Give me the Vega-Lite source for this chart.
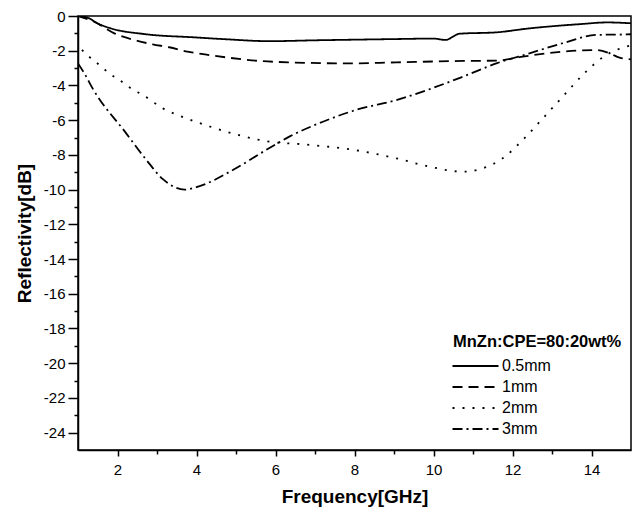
{
  "$schema": "https://vega.github.io/schema/vega-lite/v6.json",
  "width": 553,
  "height": 434,
  "autosize": "none",
  "padding": {"left": 78, "top": 16, "right": 7, "bottom": 64},
  "background": "white",
  "config": {
    "font": "Liberation Sans",
    "view": {"stroke": "black", "strokeWidth": 1.5},
    "axis": {"domainColor": "black", "tickColor": "black", "labelColor": "black", "titleColor": "black", "grid": false, "domainWidth": 1.5, "tickWidth": 1.5}
  },
  "data": {"values": [
    {"s":"0.5mm","x":1,"y":0},{"s":"0.5mm","x":1.25,"y":-0.1},{"s":"0.5mm","x":1.49,"y":-0.42},{"s":"0.5mm","x":1.83,"y":-0.71},{"s":"0.5mm","x":2.68,"y":-1.04},{"s":"0.5mm","x":3.94,"y":-1.23},{"s":"0.5mm","x":4.75,"y":-1.34},{"s":"0.5mm","x":5.85,"y":-1.45},{"s":"0.5mm","x":7,"y":-1.4},{"s":"0.5mm","x":8.1,"y":-1.36},{"s":"0.5mm","x":9,"y":-1.33},{"s":"0.5mm","x":10,"y":-1.3},{"s":"0.5mm","x":10.3,"y":-1.38},{"s":"0.5mm","x":10.66,"y":-1.02},{"s":"0.5mm","x":11.6,"y":-0.94},{"s":"0.5mm","x":12.4,"y":-0.72},{"s":"0.5mm","x":13.7,"y":-0.47},{"s":"0.5mm","x":14.4,"y":-0.37},{"s":"0.5mm","x":15,"y":-0.42},
    {"s":"1mm","x":1,"y":0},{"s":"1mm","x":1.41,"y":-0.33},{"s":"1mm","x":1.92,"y":-1.0},{"s":"1mm","x":2.42,"y":-1.38},{"s":"1mm","x":2.89,"y":-1.63},{"s":"1mm","x":3.31,"y":-1.8},{"s":"1mm","x":3.77,"y":-2.05},{"s":"1mm","x":4.33,"y":-2.25},{"s":"1mm","x":5.6,"y":-2.59},{"s":"1mm","x":6.5,"y":-2.68},{"s":"1mm","x":7.87,"y":-2.73},{"s":"1mm","x":9.06,"y":-2.67},{"s":"1mm","x":10.74,"y":-2.59},{"s":"1mm","x":11.59,"y":-2.57},{"s":"1mm","x":12.26,"y":-2.34},{"s":"1mm","x":13.27,"y":-2.05},{"s":"1mm","x":14.12,"y":-1.96},{"s":"1mm","x":14.46,"y":-2.15},{"s":"1mm","x":14.71,"y":-2.4},{"s":"1mm","x":15,"y":-2.5},
    {"s":"2mm","x":1.1,"y":-1.95},{"s":"2mm","x":1.28,"y":-2.34},{"s":"2mm","x":1.54,"y":-2.82},{"s":"2mm","x":1.79,"y":-3.3},{"s":"2mm","x":2.08,"y":-3.74},{"s":"2mm","x":2.34,"y":-4.17},{"s":"2mm","x":2.64,"y":-4.55},{"s":"2mm","x":3.15,"y":-5.32},{"s":"2mm","x":3.7,"y":-5.86},{"s":"2mm","x":4.25,"y":-6.3},{"s":"2mm","x":5.05,"y":-6.85},{"s":"2mm","x":5.85,"y":-7.24},{"s":"2mm","x":6.69,"y":-7.39},{"s":"2mm","x":8.0,"y":-7.72},{"s":"2mm","x":9.06,"y":-8.2},{"s":"2mm","x":9.9,"y":-8.68},{"s":"2mm","x":10.74,"y":-8.97},{"s":"2mm","x":11.25,"y":-8.77},{"s":"2mm","x":11.75,"y":-8.2},{"s":"2mm","x":12.26,"y":-7.14},{"s":"2mm","x":12.77,"y":-5.89},{"s":"2mm","x":13.27,"y":-4.65},{"s":"2mm","x":13.82,"y":-3.3},{"s":"2mm","x":14.37,"y":-2.25},{"s":"2mm","x":14.88,"y":-1.77},{"s":"2mm","x":15,"y":-1.7},
    {"s":"3mm","x":1,"y":-2.73},{"s":"3mm","x":1.16,"y":-3.3},{"s":"3mm","x":1.37,"y":-4.17},{"s":"3mm","x":2.22,"y":-6.76},{"s":"3mm","x":2.73,"y":-8.29},{"s":"3mm","x":3.15,"y":-9.4},{"s":"3mm","x":3.7,"y":-10.0},{"s":"3mm","x":4.08,"y":-9.8},{"s":"3mm","x":4.92,"y":-8.87},{"s":"3mm","x":5.76,"y":-7.72},{"s":"3mm","x":6.35,"y":-6.95},{"s":"3mm","x":7.2,"y":-6.09},{"s":"3mm","x":8.04,"y":-5.41},{"s":"3mm","x":9.06,"y":-4.84},{"s":"3mm","x":10.74,"y":-3.5},{"s":"3mm","x":11.59,"y":-2.73},{"s":"3mm","x":12.43,"y":-2.15},{"s":"3mm","x":13.27,"y":-1.57},{"s":"3mm","x":14.12,"y":-1.09},{"s":"3mm","x":14.88,"y":-1.06},{"s":"3mm","x":15,"y":-1.05}
  ]},
  "resolve": {"axis": {"x": "independent", "y": "independent"}},
  "layer": [
    {
      "mark": {"type": "line", "color": "black", "strokeWidth": 1.8, "clip": true, "interpolate": "monotone"},
      "encoding": {
        "x": {"field": "x", "type": "quantitative", "scale": {"domain": [1, 15], "nice": false, "zero": false},
          "axis": {"orient": "bottom", "values": [2,4,6,8,10,12,14], "title": "Frequency[GHz]", "titleFontSize": 19, "titleFontWeight": "bold", "titlePadding": 10, "labelFontSize": 15, "tickSize": 6, "labelPadding": 6}},
        "y": {"field": "y", "type": "quantitative", "scale": {"domain": [-25, 0], "nice": false, "zero": false},
          "axis": {"orient": "left", "values": [0,-2,-4,-6,-8,-10,-12,-14,-16,-18,-20,-22,-24], "labelExpr": "datum.value == 0 ? '0' : '-' + abs(datum.value)", "title": "Reflectivity[dB]", "titleFontSize": 19, "titleFontWeight": "bold", "titlePadding": 9, "labelFontSize": 15, "tickSize": 10, "labelPadding": 3}},
        "strokeDash": {"field": "s", "type": "nominal",
          "scale": {"domain": ["0.5mm","1mm","2mm","3mm"], "range": [[1,0],[10,6],[2,8],[10,4,2,4]]},
          "legend": {"orient": "none", "legendX": 375, "legendY": 318, "title": "MnZn:CPE=80:20wt%", "titleFontSize": 16.5, "titleFontWeight": "bold", "titleColor": "black", "titlePadding": 3, "labelFontSize": 16, "labelColor": "black", "symbolType": "M-2,0L2,0", "symbolSize": 529, "symbolOffset": 10, "symbolStrokeColor": "black", "symbolStrokeWidth": 1.8, "labelOffset": 14, "rowPadding": 0, "padding": 0}
        }
      }
    },
    {
      "mark": {"type": "point", "opacity": 0},
      "encoding": {
        "x": {"field": "x", "type": "quantitative", "axis": {"orient": "bottom", "values": [3,5,7,9,11,13], "labels": false, "title": null, "domain": false, "tickSize": 4}},
        "y": {"field": "y", "type": "quantitative", "axis": {"orient": "left", "values": [-1,-3,-5,-7,-9,-11,-13,-15,-17,-19,-21,-23], "labels": false, "title": null, "domain": false, "tickSize": 4}}
      }
    }
  ]
}
